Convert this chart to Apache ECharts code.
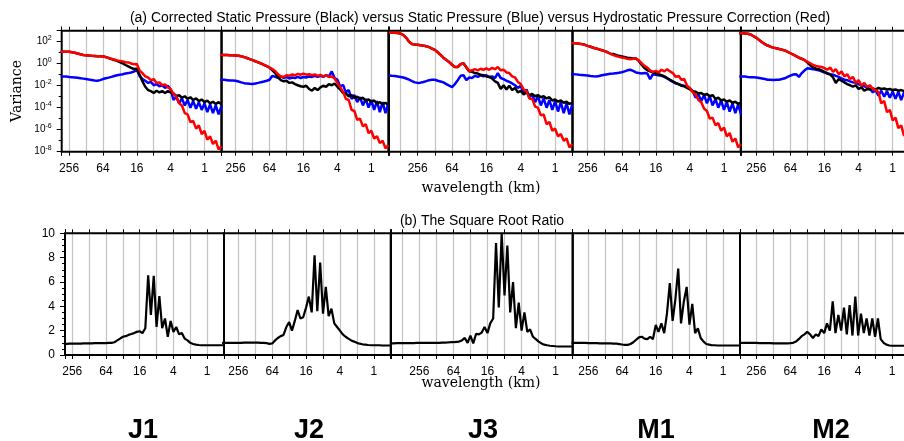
<!DOCTYPE html>
<html>
<head>
<meta charset="utf-8">
<script src="https://cdn.jsdelivr.net/npm/echarts@6/dist/echarts.min.js"></script>
<style>
  html, body { margin: 0; padding: 0; background: #fff; }
  #chart { width: 904px; height: 441px; }
</style>
</head>
<body>
<div id="chart"></div>
<script>
// Wavelength grid (km), 1/6-octave steps from ~813 km down to 0.5 km.
const wavelength = [812.7, 724.1, 645.1, 574.7, 512, 456.1, 406.4, 362, 322.5, 287.4,
  256, 228.1, 203.2, 181, 161.3, 143.7, 128, 114, 101.6, 90.5,
  80.6, 71.8, 64, 57, 50.8, 45.3, 40.3, 35.9, 32, 28.5,
  25.4, 22.6, 20.2, 18, 16, 14.3, 12.7, 11.3, 10.1, 8.98,
  8, 7.13, 6.35, 5.66, 5.04, 4.49, 4, 3.56, 3.17, 2.83,
  2.52, 2.24, 2, 1.78, 1.59, 1.41, 1.26, 1.12, 1, 0.891,
  0.794, 0.707, 0.63, 0.561, 0.5];

const cases = ['J1', 'J2', 'J3', 'M1', 'M2'];
// Longest resolved wavelength (km) of each case: upper and lower rows.
const spanTop = [347, 452, 814, 471, 484];
const spanBottom = [345, 461, 809, 488, 500];
const xTickLabels = [256, 64, 16, 4, 1];
const ratioTicks = [0, 2, 4, 6, 8, 10];

// Each series runs from its case's longest wavelength to 0.5 km (tail of the grid).
// Corrected static pressure (black)
const correctedJ1 = [12, 12, 12, 12, 11, 10, 8.5, 7.2, 6.3, 5.9, 5.5, 5.2, 5, 4.8, 4.7, 4.5, 4, 3.3,
  2.6, 2.1, 1.8, 1.4, 1.05, 0.76, 0.56, 0.42, 0.33, 0.35, 0.1, 0.025, 0.008, 0.004, 0.0032, 0.0022, 0.0035, 0.0025, 0.0032, 0.0022, 0.0032, 0.0025,
  2e-3, 1.1e-3, 1.4e-3, 8e-4, 1.1e-3, 6.3e-4, 9e-4, 5e-4, 7e-4, 4e-4, 5.6e-4, 3.2e-4, 4.5e-4, 2.5e-4, 3.5e-4, 2.2e-4, 3.2e-4, 2e-4];
const correctedJ2 = [6.3, 6.3, 6.3, 6.2, 6, 5.9, 5.6, 5.2, 4.8, 4, 3.3, 2.6, 2.1, 1.66, 1.32, 1.05, 0.8, 0.6, 0.45,
  0.25, 0.14, 0.056, 0.032, 0.025, 0.028, 0.018, 0.02, 0.014, 0.011, 0.0089, 0.008, 0.01, 0.005, 0.0035, 0.0063, 0.004, 0.007, 0.01, 0.008, 0.014, 0.011, 0.016, 0.008,
  0.0045, 0.0022, 0.002, 0.0011, 0.0014, 8e-4, 1e-3, 6.3e-4, 8e-4, 4.5e-4, 5.6e-4, 3.5e-4, 4.5e-4, 2.5e-4, 3.2e-4, 2e-4, 2.8e-4, 1.8e-4];
const correctedJ3 = [660, 660, 660, 630, 560, 400, 224, 100, 63, 56, 52, 48, 44, 38, 32, 24, 18, 11, 6.3, 3.5, 2.2, 1.4, 0.8, 0.5, 0.5, 0.9, 1.1,
  0.45, 0.2, 0.18, 0.14, 0.126, 0.1, 0.089, 0.07, 0.063, 0.045, 0.025, 0.018, 0.005, 0.011, 0.0045, 0.01, 0.004, 0.0063, 0.0025, 0.0035,
  0.0016, 0.0025, 0.0014, 0.0018, 0.0011, 0.0014, 9e-4, 1.1e-3, 7e-4, 9e-4, 4.5e-4, 5.6e-4, 3.5e-4, 4.5e-4, 2.8e-4, 3.5e-4, 2.2e-4, 2.8e-4];
const correctedM1 = [72, 72, 71, 66, 60, 52, 42, 35, 28, 24, 20, 16.6, 14, 11, 8, 7.6, 6.3, 5.2, 4.6, 4, 3.5, 3.3, 3, 3,
  1.8, 0.8, 0.4, 0.25, 0.2, 0.16, 0.14, 0.11, 0.089, 0.07, 0.05, 0.035, 0.025, 0.018, 0.014, 0.01, 0.0089, 0.0063, 0.0045, 0.0032,
  0.0028, 0.002, 0.0022, 0.0014, 0.0018, 0.0011, 0.0014, 6.3e-4, 8e-4, 4.5e-4, 5.6e-4, 3.5e-4, 4.5e-4, 2.8e-4, 3.5e-4, 2.2e-4, 2.8e-4];
const correctedM2 = [575, 575, 560, 525, 450, 316, 224, 141, 89, 60, 45, 35, 29, 25, 22, 19, 16, 12, 8.9, 6.6, 4.8, 3.5, 2.8, 2.1,
  1.26, 0.7, 0.45, 0.35, 0.32, 0.25, 0.18, 0.126, 0.1, 0.056, 0.018, 0.04, 0.028, 0.02, 0.014, 0.011, 0.008, 0.011, 0.005, 0.007,
  0.0035, 0.005, 0.0045, 0.0056, 0.0045, 0.0063, 0.005, 0.0056, 0.0045, 0.005, 0.004, 0.0045, 0.0035, 0.004, 0.0032, 0.0035, 0.0028];

// Static pressure (blue)
const staticJ1 = [0.07, 0.07, 0.068, 0.063, 0.06, 0.056, 0.052, 0.048, 0.044, 0.04, 0.036, 0.033, 0.03, 0.028, 0.032, 0.04, 0.047, 0.054, 0.063, 0.076,
  0.089, 0.1, 0.112, 0.126, 0.14, 0.16, 0.19, 0.28, 0.079, 0.04, 0.028, 0.018, 0.022, 0.011, 0.014, 0.0089, 0.011, 0.0063, 0.01, 0.0045,
  5e-4, 1e-3, 2.5e-4, 7e-4, 1.6e-4, 5e-4, 1e-4, 4e-4, 8e-5, 3.2e-4, 6.3e-5, 2.5e-4, 4e-5, 2e-4, 3.2e-5, 1.6e-4, 2.5e-5, 1.4e-4];
const staticJ2 = [0.035, 0.035, 0.034, 0.032, 0.03, 0.029, 0.028, 0.024, 0.02, 0.017, 0.016, 0.015, 0.0145, 0.016, 0.018, 0.021, 0.024, 0.028, 0.035, 0.079,
  0.063, 0.052, 0.07, 0.05, 0.063, 0.045, 0.056, 0.05, 0.063, 0.05, 0.063, 0.056, 0.07, 0.063, 0.079, 0.063, 0.079, 0.063, 0.089, 0.07, 0.2, 0.05, 0.035,
  0.008, 0.012, 0.0025, 0.004, 6.3e-4, 1.4e-3, 3.2e-4, 9e-4, 1.6e-4, 6.3e-4, 1e-4, 5e-4, 6.3e-5, 4e-4, 4e-5, 3.2e-4, 3.2e-5, 2.5e-4];
const staticJ3 = [0.083, 0.079, 0.076, 0.07, 0.063, 0.056, 0.045, 0.035, 0.026, 0.02, 0.018, 0.019, 0.022, 0.026, 0.032, 0.035, 0.035, 0.028, 0.024, 0.02,
  0.014, 0.01, 0.0076, 0.014, 0.032, 0.079, 0.089, 0.032, 0.056, 0.05, 0.079, 0.063, 0.089, 0.07, 0.089, 0.063, 0.07, 0.05, 0.14, 0.05,
  0.04, 0.028, 0.022, 0.016, 0.011, 0.0063, 0.01,
  0.002, 0.0045, 8e-4, 1.6e-3, 3.2e-4, 1.1e-3, 1.6e-4, 7e-4, 1e-4, 5e-4, 6.3e-5, 4e-4, 4.5e-5, 3.2e-4, 3.2e-5, 2.5e-4, 2.5e-5, 2e-4];
const staticM1 = [0.112, 0.112, 0.107, 0.1, 0.095, 0.089, 0.083, 0.076, 0.072, 0.07, 0.076, 0.089, 0.1, 0.112, 0.12, 0.126, 0.138, 0.15, 0.166, 0.2,
  0.25, 0.28, 0.22, 0.16, 0.14, 0.13, 0.14, 0.126, 0.04, 0.112, 0.1, 0.089, 0.079, 0.063, 0.045, 0.032, 0.022, 0.016, 0.014, 0.011,
  0.01, 0.007, 0.0056, 0.0032,
  8e-4, 1.6e-3, 4e-4, 1.4e-3, 2.5e-4, 1.1e-3, 1.6e-4, 6e-4, 1e-4, 4.5e-4, 6.3e-5, 3.2e-4, 4.5e-5, 2.5e-4, 3.2e-5, 2e-4, 2.5e-5];
const staticM2 = [0.07, 0.07, 0.068, 0.063, 0.06, 0.058, 0.055, 0.05, 0.045, 0.04, 0.035, 0.034, 0.033, 0.034, 0.035, 0.04, 0.047, 0.063, 0.083, 0.105,
  0.112, 0.063, 0.14, 0.25, 0.38, 0.35, 0.32, 0.28, 0.25, 0.2, 0.16, 0.14, 0.112, 0.1, 0.079, 0.063, 0.045, 0.035, 0.032, 0.025,
  0.02, 0.018, 0.014, 0.011, 0.0089, 0.007, 0.005, 0.0025,
  0.004, 0.00126, 0.0035, 0.001, 0.0032, 8e-4, 0.003, 6.3e-4, 0.0028, 5e-4, 0.0025, 4e-4, 0.0022];

// Hydrostatic pressure correction (red)
const hydroJ1 = [12, 12, 12, 12, 11, 10, 8.5, 7.2, 6.3, 5.9, 5.5, 5.2, 5, 4.8, 4.7, 4.5, 4, 3.3, 2.8, 2.4,
  2, 1.8, 1.6, 1.35, 1.3, 1.05, 0.9, 0.95, 0.25, 0.14, 0.07, 0.056, 0.032, 0.04, 0.018, 0.02, 0.011, 0.013, 0.007, 0.005,
  1.8e-3, 1e-3, 2.5e-4, 1.6e-4, 3.2e-5, 2.5e-5, 5e-6, 6.3e-6, 1.26e-6, 2.5e-6, 4e-7, 8e-7, 1.26e-7, 2.5e-7, 5e-8, 1e-7, 1.6e-8, 3.2e-8];
const hydroJ2 = [6.3, 6.3, 6.3, 6.2, 6, 5.9, 5.6, 5.2, 4.8, 4, 3.3, 2.6, 2.1, 1.66, 1.32, 1.05, 0.8, 0.6, 0.45, 0.32,
  0.22, 0.11, 0.07, 0.063, 0.089, 0.079, 0.105, 0.089, 0.12, 0.1, 0.126, 0.1, 0.112, 0.089, 0.105, 0.079, 0.095, 0.07, 0.089, 0.063, 0.07, 0.045,
  0.018, 0.007, 0.0028, 6.3e-4, 5e-4, 6.3e-5, 5e-5, 8e-6, 1e-5, 2e-6, 3.2e-6, 5e-7, 8e-7, 1.6e-7, 2.5e-7, 6.3e-8, 1e-7, 2e-8, 4e-8];
const hydroJ3 = [660, 660, 660, 630, 560, 400, 224, 100, 63, 56, 52, 48, 44, 38, 32, 24, 18, 11, 6.3, 3.5,
  2.2, 1.4, 0.8, 0.5, 0.5, 0.9, 1.1, 0.5, 0.22, 0.25, 0.32, 0.25, 0.35, 0.28, 0.38, 0.28, 0.42, 0.32, 0.5, 0.25,
  0.28, 0.16, 0.14, 0.07, 0.056, 0.022, 0.014, 0.0045, 0.0032, 7e-4,
  6.3e-4, 1.26e-4, 1e-4, 2e-5, 2.5e-5, 3.2e-6, 5e-6, 8e-7, 1.26e-6, 2.5e-7, 4e-7, 1e-7, 1.6e-7, 2.5e-8, 5e-8];
const hydroM1 = [72, 72, 71, 66, 60, 52, 42, 35, 28, 24, 20, 16.6, 14, 11, 8, 6, 5, 4.2, 3.6, 3.2,
  2.8, 2.6, 2.8, 3, 2, 1.1, 0.63, 0.45, 0.25, 0.18, 0.22, 0.16, 0.28, 0.2, 0.32, 0.2, 0.14, 0.063, 0.079, 0.035, 0.04,
  0.01, 0.0063, 0.0025, 0.0016, 5e-4, 3.2e-4, 8e-5, 5e-5, 1e-5, 1.26e-5, 2.5e-6, 4e-6, 8e-7, 1.6e-6, 2.5e-7, 5e-7, 8e-8, 1.6e-7, 2.5e-8, 5e-8];
const hydroM2 = [575, 575, 560, 525, 450, 316, 224, 141, 89, 60, 45, 35, 29, 25, 22, 19, 16, 12, 8.9, 6.6,
  4.8, 3.5, 2.8, 2.1, 1.5, 1.1, 0.76, 0.63, 0.56, 0.5, 0.4, 0.28, 0.45, 0.18, 0.32, 0.11, 0.2, 0.07, 0.11, 0.04,
  0.063, 0.018, 0.032, 0.01, 0.018, 0.008, 0.011, 0.005, 0.004,
  0.0025, 2.5e-4, 4e-4, 4e-5, 6.3e-5, 7e-6, 1.26e-5, 1.4e-6, 2.5e-6, 2.8e-7, 5e-7, 6.3e-8];

// Square root ratio (lower row)
const ratioJ1 = [0.92, 0.92, 0.93, 0.93, 0.93, 0.94, 0.94, 0.95, 0.95, 0.96, 0.96, 0.97, 0.97, 0.98, 0.98, 0.98, 0.99, 1.0, 1.05, 1.2,
  1.35, 1.5, 1.55, 1.65, 1.72, 1.8, 1.9, 1.95, 1.8, 2.2, 6.55, 3.3, 6.5, 2.3, 4.85, 2.2, 3.0, 1.5, 2.8, 1.9,
  2.3, 1.7, 1.8, 1.35, 1.2, 1.0, 0.9, 0.85, 0.82, 0.8, 0.8, 0.8, 0.8, 0.8, 0.8, 0.8, 0.8, 0.8];
const ratioJ2 = [1.0, 1.0, 1.0, 1.0, 1.0, 1.0, 1.0, 1.0, 1.01, 1.02, 1.02, 1.02, 1.02, 1.02, 1.0, 1.0, 0.97, 0.92, 0.95, 1.2,
  1.4, 1.55, 1.65, 2.3, 2.7, 2.0, 2.8, 3.7, 3.0, 3.1, 3.9, 4.8, 3.5, 8.2, 3.6, 7.6, 3.4, 5.6, 3.2, 3.8,
  2.6, 2.3, 2.0, 1.7, 1.5, 1.35, 1.2, 1.1, 1.0, 0.93, 0.88, 0.85, 0.82, 0.8, 0.8, 0.8, 0.8, 0.78, 0.78, 0.78, 0.78];
const ratioJ3 = [0.96, 0.96, 0.97, 0.97, 0.97, 0.98, 0.98, 0.98, 0.98, 0.99, 0.99, 0.99, 0.99, 1.0, 1.0, 1.0, 1.0, 1.0, 1.02, 1.02,
  1.03, 1.05, 1.05, 1.08, 1.1, 1.2, 1.4, 1.0, 1.6, 0.95, 1.75, 1.7, 1.85, 2.3, 1.8, 2.6, 3.0, 9.2, 3.9, 10,
  4.9, 9.0, 3.5, 6.0, 2.2, 4.3, 2.0, 3.5, 1.9, 2.1, 1.5, 1.3, 1.1, 0.95, 0.85, 0.8, 0.76, 0.74, 0.72, 0.7,
  0.7, 0.7, 0.7, 0.7, 0.7];
const ratioM1 = [1.0, 1.0, 1.0, 1.0, 0.99, 0.99, 0.98, 0.98, 0.97, 0.97, 0.96, 0.96, 0.95, 0.95, 0.95, 0.94, 0.93, 0.9, 0.86, 0.83,
  0.83, 0.9, 1.05, 1.25, 1.45, 1.5, 1.35, 1.3, 1.5, 1.3, 2.47, 1.9, 2.6, 1.8, 3.4, 5.9, 2.8, 4.6, 7.1, 2.6,
  4.4, 5.6, 2.5, 4.2, 1.8, 2.2, 1.4, 1.1, 0.9, 0.85, 0.8, 0.8, 0.78, 0.78, 0.78, 0.78, 0.78, 0.78, 0.78, 0.78, 0.78];
const ratioM2 = [1.0, 1.0, 1.0, 1.0, 1.0, 0.99, 0.99, 0.98, 0.98, 0.97, 0.97, 0.97, 0.96, 0.96, 0.96, 0.96, 0.95, 0.95, 0.97, 1.0,
  1.1, 1.3, 1.55, 1.7, 1.9, 1.7, 1.4, 1.7, 1.55, 2.1, 1.8, 2.6, 2.0, 4.4, 1.8, 3.3, 2.0, 3.9, 1.7, 4.1,
  1.6, 4.8, 1.6, 3.4, 1.8, 3.0, 1.6, 3.0, 1.5, 3.0, 1.3, 1.0, 0.85, 0.78, 0.76, 0.76, 0.76, 0.76, 0.76, 0.76, 0.76];

const correctedAll = [correctedJ1, correctedJ2, correctedJ3, correctedM1, correctedM2];
const staticAll = [staticJ1, staticJ2, staticJ3, staticM1, staticM2];
const hydroAll = [hydroJ1, hydroJ2, hydroJ3, hydroM1, hydroM2];
const ratioAll = [ratioJ1, ratioJ2, ratioJ3, ratioM1, ratioM2];

// Pair values with the short-wavelength end of the grid.
function pairs(vals) {
  const start = wavelength.length - vals.length;
  return vals.map((v, i) => [wavelength[start + i], v]);
}

const SANS = 'Liberation Sans, Arial, Helvetica, sans-serif';
const SERIF = 'DejaVu Serif, Liberation Serif, serif';
const GRID_GRAY = '#c4c4c4';

// Panel frames in pixels: [left, width]
const topFrames = [[61.7, 159.7], [221.7, 166.6], [389, 183.3], [572.7, 168.3], [740.7, 169]];
const bottomFrames = [[65, 159], [224, 166.7], [391, 181.7], [572.7, 167.3], [740, 169]];
const TOP_Y = 30.7, TOP_H = 121;
const BOT_Y = 233.3, BOT_H = 121.7;

function xLabel(v) {
  return xTickLabels.some(t => Math.abs(v - t) < 1e-6 * t) ? String(Math.round(v)) : '';
}

const grids = [], xAxes = [], yAxes = [], series = [];
const tickStyle = { color: '#000', width: 1 };

// Four log axes per panel: even octaves (base 4, labelled) and odd octaves (base 4 on a
// doubled range) at the bottom, and the same pair at the top for the outward tick marks.
function addXAxes(gi, span) {
  const common = {
    type: 'log', logBase: 4, gridIndex: gi, inverse: true,
    axisLine: { show: false },
    axisTick: { show: true, length: 4, lineStyle: tickStyle },
    minorTick: { show: false }
  };
  const split = { show: true, showMinLine: false, showMaxLine: false,
    lineStyle: { color: GRID_GRAY, width: 1.2 } };
  xAxes.push(Object.assign({}, common, {
    position: 'bottom', min: 0.5, max: span,
    axisLabel: { show: true, formatter: xLabel, margin: 11, fontSize: 12, color: '#000', fontFamily: SANS },
    splitLine: split
  }));
  xAxes.push(Object.assign({}, common, {
    position: 'bottom', min: 1, max: span * 2,
    axisLabel: { show: false }, splitLine: split
  }));
  xAxes.push(Object.assign({}, common, {
    position: 'top', min: 0.5, max: span,
    axisLabel: { show: false }, splitLine: { show: false }
  }));
  xAxes.push(Object.assign({}, common, {
    position: 'top', min: 1, max: span * 2,
    axisLabel: { show: false }, splitLine: { show: false }
  }));
}

function frameGrid(left, width, top, height) {
  return {
    left: left, width: width, top: top, height: height,
    show: true, borderColor: '#000', borderWidth: 2,
    backgroundColor: 'rgba(0,0,0,0)', z: 3,
    containLabel: false, outerBoundsMode: 'none'
  };
}

// Upper row: variance spectra
for (let c = 0; c < 5; c++) {
  grids.push(frameGrid(topFrames[c][0], topFrames[c][1], TOP_Y, TOP_H));
  addXAxes(c, spanTop[c]);
  yAxes.push({
    type: 'log', logBase: 100, gridIndex: c, min: 1e-8, max: 1e3,
    show: c === 0,
    axisLine: { show: false },
    axisTick: { show: true, length: 5, lineStyle: tickStyle },
    axisLabel: {
      show: true, margin: 10,
      formatter: function (v) {
        const e = Math.round(Math.log10(v));
        if (e > 2) return '';
        return '{b|10}{s|' + e + '}';
      },
      rich: {
        b: { fontSize: 10, fontFamily: SANS, color: '#000', lineHeight: 14 },
        s: { fontSize: 7, fontFamily: SANS, color: '#000', lineHeight: 7, verticalAlign: 'top' }
      }
    },
    splitLine: { show: false }
  });
  const ax = c * 4, ay = c;
  const base = { type: 'line', xAxisIndex: ax, yAxisIndex: ay, showSymbol: false, symbol: 'none',
    silent: true, animation: false };
  series.push(Object.assign({}, base, { name: cases[c] + ' static', data: pairs(staticAll[c]),
    lineStyle: { color: '#0000ff', width: 2.5 } }));
  series.push(Object.assign({}, base, { name: cases[c] + ' corrected', data: pairs(correctedAll[c]),
    lineStyle: { color: '#000000', width: 2.5 } }));
  series.push(Object.assign({}, base, { name: cases[c] + ' hydrostatic', data: pairs(hydroAll[c]),
    lineStyle: { color: '#ff0000', width: 2.5 } }));
}

// Lower row: square root ratio
for (let c = 0; c < 5; c++) {
  const gi = 5 + c;
  grids.push(frameGrid(bottomFrames[c][0], bottomFrames[c][1], BOT_Y, BOT_H));
  addXAxes(gi, spanBottom[c]);
  yAxes.push({
    type: 'value', gridIndex: gi, min: ratioTicks[0], max: ratioTicks[ratioTicks.length - 1], interval: 2,
    show: c === 0,
    axisLine: { show: false },
    axisTick: { show: true, length: 5, lineStyle: tickStyle },
    minorTick: { show: true, splitNumber: 4, length: 3, lineStyle: tickStyle },
    axisLabel: { show: true, margin: 10, fontSize: 12, color: '#000', fontFamily: SANS },
    splitLine: { show: false }, minorSplitLine: { show: false }
  });
  series.push({
    type: 'line', name: cases[c] + ' ratio', xAxisIndex: gi * 4, yAxisIndex: gi,
    data: pairs(ratioAll[c]), showSymbol: false, symbol: 'none', silent: true, animation: false,
    lineStyle: { color: '#000', width: 2.2 }
  });
}

// Odd-decade ticks on the variance axis (base 100 on a range shifted by one decade)
yAxes.push({
  type: 'log', logBase: 100, gridIndex: 0, min: 1e-7, max: 1e4, position: 'left',
  axisLine: { show: false },
  axisTick: { show: true, length: 3, lineStyle: tickStyle },
  axisLabel: { show: false }, splitLine: { show: false }
});

function label(text, x, y, size, family, weight, rotation) {
  return {
    type: 'text', x: x, y: y, rotation: rotation || 0, silent: true,
    style: { text: text, fontSize: size, fontFamily: family, fontWeight: weight || 'normal',
      fill: '#000', align: 'center', verticalAlign: 'middle' }
  };
}

const graphics = [
  label('(a) Corrected Static Pressure (Black) versus Static Pressure (Blue) versus Hydrostatic Pressure Correction (Red)', 480, 18, 14, SANS),
  label('(b) The Square Root Ratio', 482, 221, 14, SANS),
  label('wavelength (km)', 481, 188, 14, SERIF),
  label('wavelength (km)', 481, 383, 14, SERIF),
  label('Variance', 17, 91, 14, SERIF, 'normal', Math.PI / 2)
];
const caseX = [143, 309, 483, 656, 831];
cases.forEach((name, i) => graphics.push(label(name, caseX[i], 431, 27, SANS, 'bold')));

const chart = echarts.init(document.getElementById('chart'), null, { renderer: 'canvas' });
chart.setOption({
  backgroundColor: '#ffffff',
  animation: false,
  textStyle: { fontFamily: SANS },
  grid: grids,
  xAxis: xAxes,
  yAxis: yAxes,
  series: series,
  graphic: graphics
});
</script>
</body>
</html>
